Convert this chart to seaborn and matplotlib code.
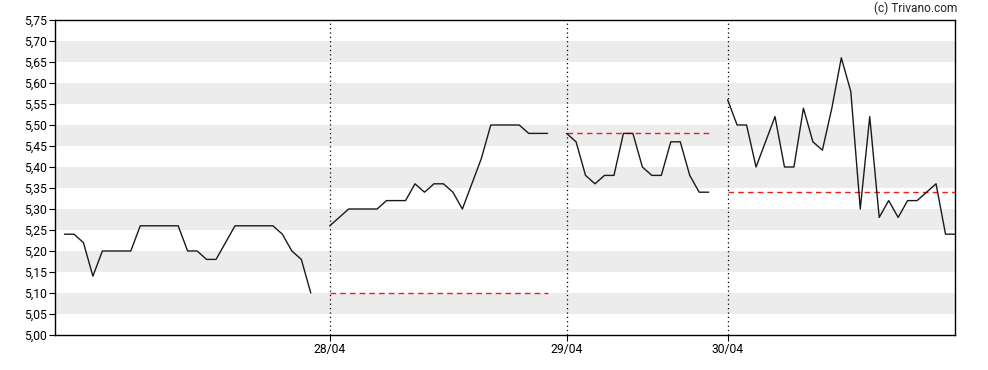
import numpy as np
import pandas as pd
import matplotlib
matplotlib.use("Agg")
import matplotlib.pyplot as plt
import seaborn as sns

# --- data ---
day1 = [5.24, 5.24, 5.22, 5.14, 5.20, 5.20, 5.20, 5.20, 5.26, 5.26, 5.26, 5.26, 5.26,
        5.20, 5.20, 5.18, 5.18, 5.22, 5.26, 5.26, 5.26, 5.26, 5.26, 5.24, 5.20, 5.18, 5.10]
day2 = [5.26, 5.28, 5.30, 5.30, 5.30, 5.30, 5.32, 5.32, 5.32, 5.36, 5.34, 5.36, 5.36,
        5.34, 5.30, 5.36, 5.42, 5.50, 5.50, 5.50, 5.50, 5.48, 5.48, 5.48]
day3 = [5.48, 5.46, 5.38, 5.36, 5.38, 5.38, 5.48, 5.48, 5.40, 5.38, 5.38, 5.46, 5.46,
        5.38, 5.34, 5.34]
day4 = [5.56, 5.50, 5.50, 5.40, 5.46, 5.52, 5.40, 5.40, 5.54, 5.46, 5.44, 5.54, 5.66,
        5.58, 5.30, 5.52, 5.28, 5.32, 5.28, 5.32, 5.32, 5.34, 5.36, 5.24, 5.24]
day_starts = [0, 28, 53, 70]
day_labels = ["27/04", "28/04", "29/04", "30/04"]
tick_labels = ["28/04", "29/04", "30/04"]
y_ticks = [5.00, 5.05, 5.10, 5.15, 5.20, 5.25, 5.30, 5.35, 5.40, 5.45, 5.50, 5.55, 5.60,
           5.65, 5.70, 5.75]

days = [day1, day2, day3, day4]
rows = []
ref_rows = []
for d, (vals, start, lab) in enumerate(zip(days, day_starts, day_labels)):
    for i, v in enumerate(vals):
        rows.append({"x": start + i, "price": v, "day": lab})
    if d > 0:
        prev_close = days[d - 1][-1]
        for xx in (start, start + len(vals) - 1):
            ref_rows.append({"x": xx, "price": prev_close, "day": lab})
df = pd.DataFrame(rows)
ref = pd.DataFrame(ref_rows)

sns.set_theme(style="white")
plt.rcParams["font.family"] = ["Roboto", "DejaVu Sans"]

fig = plt.figure(figsize=(9.88, 3.70), dpi=100)
ax = fig.add_axes([55 / 988, 1 - 335 / 370, 900 / 988, 315 / 370])

# alternating bands
for lo in np.arange(5.05, 5.75, 0.10):
    ax.axhspan(lo, lo + 0.05, color="#ececec", lw=0, zorder=0)

# vertical day separators
for s in day_starts[1:]:
    ax.axvline(s, color="black", lw=0.9, ls=(0, (1, 2.5)), zorder=1)

sns.lineplot(data=ref, x="x", y="price", units="day", estimator=None, ax=ax,
             color="#ee1c1c", lw=1.0, dashes=False, zorder=2)
for line in ax.get_lines()[-(len(days) - 1):]:
    line.set_linestyle((0, (4, 3)))

sns.lineplot(data=df, x="x", y="price", units="day", estimator=None, ax=ax,
             color="#1a1a1a", lw=1.0, zorder=3)

ax.set_xlim(-1, 94)
ax.set_ylim(5.0, 5.75)
ax.set_yticks(y_ticks)
ax.set_yticklabels([f"{v:.2f}".replace(".", ",") for v in y_ticks])
ax.set_xticks(day_starts[1:])
ax.set_xticklabels(tick_labels)
ax.set_xlabel("")
ax.set_ylabel("")
ax.tick_params(axis="both", labelsize=8.7, colors="black", length=4.5, width=0.8,
               direction="out", bottom=True, left=True, pad=1.5)
for sp in ax.spines.values():
    sp.set_color("black")
    sp.set_linewidth(1.0)
    sp.set_visible(True)

fig.text(957 / 988, 1 - 8 / 370, "(c) Trivano.com", ha="right", va="center",
         fontsize=8.6, color="#222222")

fig.savefig("out.png", dpi=100)
